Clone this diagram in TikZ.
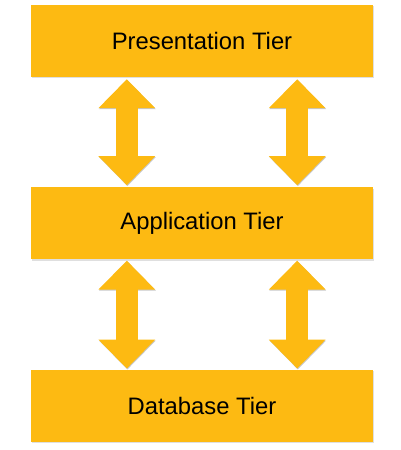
\documentclass[tikz,border=0pt]{standalone}
\usepackage{fontspec}
\setmainfont{Liberation Sans}
\usetikzlibrary{positioning,calc,arrows.meta,shadows}

\definecolor{tierorange}{RGB}{253,186,18}

\tikzset{
  tier/.style={fill=tierorange, minimum width=342pt, minimum height=72pt,
    inner sep=0pt, font=\fontsize{23.8}{28}\selectfont,
    drop shadow={shadow xshift=0.8pt, shadow yshift=-1.2pt, opacity=0.25}},
  tierlink/.style={draw=tierorange, line width=22pt,
    {Triangle[width=55pt,length=29pt]}-{Triangle[width=55pt,length=29pt]},
    preaction={draw=black!22, transform canvas={xshift=0.6pt,yshift=-0.9pt}}},
}

\begin{document}
\begin{tikzpicture}[x=1pt, y=-1pt, node distance=110pt]
  \useasboundingbox (0,0) rectangle (400,450);

  \node[tier] (pres) at (202,41) {Presentation Tier};
  \node[tier, below=of pres] (app) {Application Tier};
  \node[tier, below=of app] (data) {Database Tier};

  % arrows between tiers
  \coordinate (p1) at ($(pres.south west)+(96,2)$);
  \coordinate (p2) at ($(pres.south east)+(-76,2)$);
  \coordinate (a1) at ($(app.north west)+(96,-2)$);
  \coordinate (a2) at ($(app.north east)+(-76,-2)$);
  \coordinate (a3) at ($(app.south west)+(96,1)$);
  \coordinate (a4) at ($(app.south east)+(-76,1)$);
  \coordinate (d1) at ($(data.north west)+(96,-1)$);
  \coordinate (d2) at ($(data.north east)+(-76,-1)$);

  \draw[tierlink] (p1) -- (a1);
  \draw[tierlink] (p2) -- (a2);
  \draw[tierlink] (a3) -- (d1);
  \draw[tierlink] (a4) -- (d2);
\end{tikzpicture}
\end{document}
